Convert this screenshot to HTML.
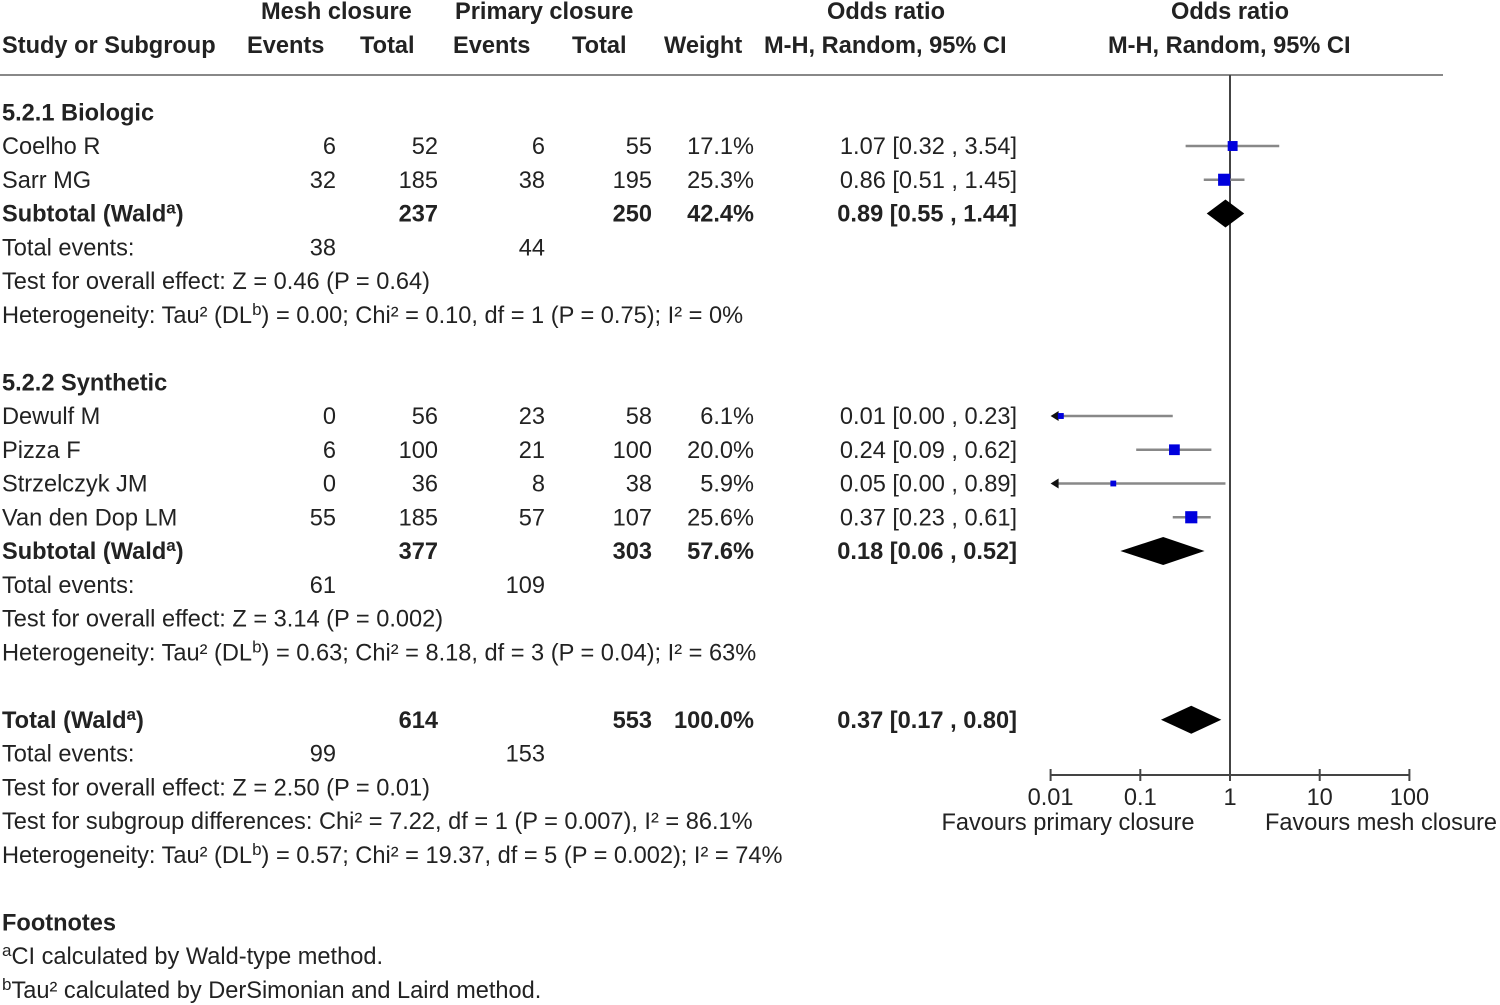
<!DOCTYPE html>
<html><head><meta charset="utf-8"><style>
html,body{margin:0;padding:0;background:#fff}
svg{display:block}
text{font-family:"Liberation Sans",Arial,sans-serif;font-size:23.6px;fill:#222}
.b{font-weight:bold}
</style></head><body>
<svg id="fp" width="1500" height="1005" viewBox="0 0 1500 1005">
<g id="hdr">
<text class="b" x="261" y="19">Mesh closure</text>
<text class="b" x="455" y="19">Primary closure</text>
<text class="b" x="886" y="19" text-anchor="middle">Odds ratio</text>
<text class="b" x="1230" y="19" text-anchor="middle">Odds ratio</text>
<text class="b" x="2" y="53">Study or Subgroup</text>
<text class="b" x="247" y="53">Events</text>
<text class="b" x="360" y="53">Total</text>
<text class="b" x="453" y="53">Events</text>
<text class="b" x="572" y="53">Total</text>
<text class="b" x="664" y="53">Weight</text>
<text class="b" x="764" y="53">M-H, Random, 95% CI</text>
<text class="b" x="1108" y="53">M-H, Random, 95% CI</text>
<line x1="0" y1="75" x2="1443" y2="75" stroke="#888" stroke-width="2"/>
</g>
<g id="rows"></g>
<g id="plot"></g>
</svg>
<script>
const rowLabels = ["5.2.1 Biologic","Coelho R","Sarr MG","Subtotal (Walda)","Total events:","Test for overall effect: Z = 0.46 (P = 0.64)","Heterogeneity: Tau² (DLb) = 0.00; Chi² = 0.10, df = 1 (P = 0.75); I² = 0%","",
"5.2.2 Synthetic","Dewulf M","Pizza F","Strzelczyk JM","Van den Dop LM","Subtotal (Walda)","Total events:","Test for overall effect: Z = 3.14 (P = 0.002)","Heterogeneity: Tau² (DLb) = 0.63; Chi² = 8.18, df = 3 (P = 0.04); I² = 63%","",
"Total (Walda)","Total events:","Test for overall effect: Z = 2.50 (P = 0.01)","Test for subgroup differences: Chi² = 7.22, df = 1 (P = 0.007), I² = 86.1%","Heterogeneity: Tau² (DLb) = 0.57; Chi² = 19.37, df = 5 (P = 0.002); I² = 74%","",
"Footnotes","aCI calculated by Wald-type method.","bTau² calculated by DerSimonian and Laird method."];
const boldRows = [0,3,8,13,18,24];
const meshEvents = ["","6","32","","38","","","","","0","6","0","55","","61","","","","","99"];
const meshTotal  = ["","52","185","237","","","","","","56","100","36","185","377","","","","","614",""];
const primEvents = ["","6","38","","44","","","","","23","21","8","57","","109","","","","","153"];
const primTotal  = ["","55","195","250","","","","","","58","100","38","107","303","","","","","553",""];
const weights    = ["","17.1%","25.3%","42.4%","","","","","","6.1%","20.0%","5.9%","25.6%","57.6%","","","","","100.0%",""];
const ciTexts    = ["","1.07 [0.32 , 3.54]","0.86 [0.51 , 1.45]","0.89 [0.55 , 1.44]","","","","","","0.01 [0.00 , 0.23]","0.24 [0.09 , 0.62]","0.05 [0.00 , 0.89]","0.37 [0.23 , 0.61]","0.18 [0.06 , 0.52]","","","","","0.37 [0.17 , 0.80]",""];
const studyRows = [1,2,9,10,11,12];
const studyOR = [1.07,0.86,0.013,0.24,0.05,0.37];
const studyLo = [0.32,0.51,0.0,0.09,0.0,0.23];
const studyHi = [3.54,1.45,0.23,0.62,0.89,0.61];
const studyW  = [17.1,25.3,6.1,20.0,5.9,25.6];
const diaRows = [3,13,18];
const diaOR = [0.89,0.18,0.37];
const diaLo = [0.55,0.06,0.17];
const diaHi = [1.44,0.52,0.80];
const ticks = [0.01,0.1,1,10,100];
const tickLabels = ["0.01","0.1","1","10","100"];

const NS="http://www.w3.org/2000/svg";
const DEC=89.7, Y0=146, RH=33.75;
function xs(v){return 1230+Math.log10(Math.max(v,0.01))*DEC;}
function ys(i){return Y0+(i-1)*RH;}
function mk(tag,attrs,parent,txt){const e=document.createElementNS(NS,tag);for(const k in attrs)e.setAttribute(k,attrs[k]);if(txt!==undefined)e.textContent=txt;parent.appendChild(e);return e;}
const R=document.getElementById('rows'), P=document.getElementById('plot');

function labelWithSup(t,x,y,bold){
  const e=mk('text',{x:x,y:y},R);
  if(bold)e.setAttribute('class','b');
  const m=t.match(/^(.*?\()(Wald)(a)(\).*)$/)||t.match(/^(.*?\(DL)()(b)(\).*)$/);
  if(m){e.appendChild(document.createTextNode(m[1]+m[2]));mk('tspan',{dy:-8,'font-size':17},e,m[3]);mk('tspan',{dy:8},e,m[4]);}
  else if(/^[ab](CI|Tau)/.test(t)){mk('tspan',{dy:-8,'font-size':17},e,t[0]);mk('tspan',{dy:8},e,t.slice(1));}
  else e.textContent=t;
  return e;
}
rowLabels.forEach((t,i)=>{
  const y=ys(i)+8, b=boldRows.includes(i);
  if(t){const e=labelWithSup(t,2,y,b);
    
    }
  const cols=[[meshEvents,336],[meshTotal,438],[primEvents,545],[primTotal,652],[weights,754],[ciTexts,1017]];
  cols.forEach(([arr,x])=>{const v=arr[i];if(!v)return;
    const e=mk('text',{x:x,y:y,'text-anchor':'end'},R,v);
    if(i===3||i===13||i===18)e.setAttribute('class','b');
    
    });
});
const ref=mk('line',{x1:xs(1),y1:75,x2:xs(1),y2:776,stroke:'#444','stroke-width':2},P);


studyRows.forEach((r,i)=>{
  const y=ys(r);
  const clipped=studyLo[i]<0.01;
  const x1=clipped?xs(0.01)+6:xs(studyLo[i]);
  const ln=mk('line',{x1:x1,y1:y,x2:xs(studyHi[i]),y2:y,stroke:'#888','stroke-width':2.5},P);
  
  
  if(clipped){const a=mk('polygon',{points:`${xs(0.01)},${y} ${xs(0.01)+8},${y-5} ${xs(0.01)+8},${y+5}`,fill:'#111'},P);
    
    }
  const s=Math.max(3,Math.sqrt(studyW[i])*2.4);
  const sq=mk('rect',{x:xs(studyOR[i])-s/2,y:y-s/2,width:s,height:s,fill:'#0000dd'},P);
  
  
});
diaRows.forEach((r,i)=>{
  const y=ys(r);
  const d=mk('polygon',{points:`${xs(diaLo[i])},${y} ${xs(diaOR[i])},${y-14} ${xs(diaHi[i])},${y} ${xs(diaOR[i])},${y+14}`,fill:'#000'},P);
  
  
});
const ax=mk('line',{x1:xs(0.01),y1:775,x2:xs(100),y2:775,stroke:'#444','stroke-width':2},P);


ticks.forEach((t,i)=>{
  const tk=mk('line',{x1:xs(t),y1:769,x2:xs(t),y2:781,stroke:'#444','stroke-width':2},P);
  
  
  const lb=mk('text',{x:xs(t),y:805,'text-anchor':'middle'},P,tickLabels[i]);
  
  
});
const f1=mk('text',{x:1068,y:830,'text-anchor':'middle'},P,'Favours primary closure');


const f2=mk('text',{x:1381,y:830,'text-anchor':'middle'},P,'Favours mesh closure');


</script>
</body></html>
